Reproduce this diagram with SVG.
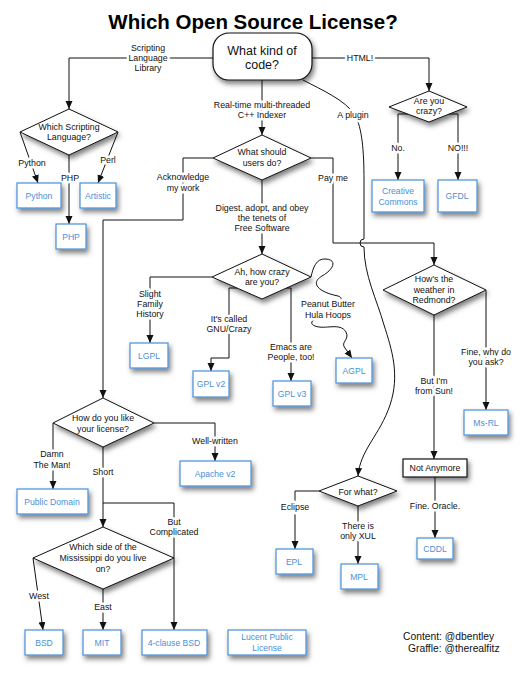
<svg xmlns="http://www.w3.org/2000/svg" width="525" height="676" viewBox="0 0 525 676">
<defs>
<filter id="sh" x="-20%" y="-20%" width="150%" height="180%">
<feDropShadow dx="2" dy="3.5" stdDeviation="2.5" flood-color="#000" flood-opacity="0.5"/>
</filter>
<marker id="arr" markerUnits="userSpaceOnUse" markerWidth="8" markerHeight="8" refX="8" refY="3.5" orient="auto">
<path d="M0,0 L8,3.5 L0,7 z" fill="#111"/>
</marker>
</defs>
<style>
text{font-family:"Liberation Sans",Arial,sans-serif;text-anchor:middle}
.t{font-size:8.8px;fill:#111}
.h{stroke:#fff;stroke-width:5;stroke-linejoin:round;paint-order:stroke}
.c path{fill:none;stroke:#111;stroke-width:1;marker-end:url(#arr)}
.dia polygon{fill:#fff;stroke:#111;stroke-width:1;filter:url(#sh)}
.dia text{font-size:8.8px;fill:#111}
.box rect{fill:#fff;stroke:#4a90d9;stroke-width:1.2;filter:url(#sh)}
.box text{font-size:8.6px;fill:#4a90d9}
.blk rect{fill:#fff;stroke:#111;stroke-width:1.2;filter:url(#sh)}
.blk text{font-size:8.8px;fill:#111}
</style>
<rect width="525" height="676" fill="#fff"/>
<text x="253" y="29" style="font-size:20.5px;font-weight:bold;fill:#000">Which Open Source License?</text>

<g class="c" id="connectors">
<path d="M213,58 L69,58 L69,109"/>
<path d="M312,58 L429,58 L429,91"/>
<path d="M262,80 L262,135"/>
<path d="M303,80 C322,90 345,100 355,115 C362,128 364,150 364,180 L364,239 A4,4 0 0 0 364,247 C364,275 377,300 384,325 C392,350 400,375 390,405 C380,435 360,450 358,476"/>
<path d="M20,132 L38,183"/>
<path d="M118,132 L98,183"/>
<path d="M69,155 L69,224"/>
<path d="M408,114 L398,114 L398,180"/>
<path d="M448,114 L458,114 L458,180"/>
<path d="M213,158 L183,158 L183,220 L103,220 L103,398"/>
<path d="M311,158 L333,158 L333,243 L434,243 L434,265"/>
<path d="M262,180 L262,254"/>
<path d="M212,277 L150,277 L150,343"/>
<path d="M237,288 L229,288 L229,358 L211,358 L211,371"/>
<path d="M286,288 L291,288 L291,381"/>
<path d="M311,277 C313,268 316,258 326,259 C338,260 333,270 322,276 C310,283 318,292 338,296 C345,298 340,305 330,310 C320,316 305,322 315,326 C325,330 340,322 346,332 C350,340 340,342 345,348 L352,358"/>
<path d="M434,315 L434,459"/>
<path d="M486,290 L486,410"/>
<path d="M435,477 L435,538"/>
<path d="M319,491 L295,491 L295,549"/>
<path d="M358,506 L358,564"/>
<path d="M53,423 L53,489"/>
<path d="M154,423 L215,423 L215,461"/>
<path d="M103,447 L103,527"/>
<path d="M103,503 L174,503 L174,630"/>
<path d="M33,558 L43,630"/>
<path d="M103,589 L103,630"/>
</g>

<g id="edge-labels" class="t">
<text class="t h" x="148" y="51">Scripting</text>
<text class="t h" x="148" y="61">Language</text>
<text class="t h" x="148" y="71">Library</text>
<text class="t h" x="360" y="61">HTML!</text>
<text class="t h" x="262" y="108">Real-time multi-threaded</text>
<text class="t h" x="262" y="118">C++ Indexer</text>
<text class="t h" x="353" y="118">A plugin</text>
<text class="t h" x="32" y="166">Python</text>
<text class="t h" x="70" y="181">PHP</text>
<text class="t h" x="108" y="163">Perl</text>
<text class="t h" x="398" y="151">No.</text>
<text class="t h" x="458" y="151">NO!!!</text>
<text class="t h" x="183" y="180">Acknowledge</text>
<text class="t h" x="183" y="191">my work</text>
<text class="t h" x="333" y="181">Pay me</text>
<text class="t h" x="262" y="211">Digest, adopt, and obey</text>
<text class="t h" x="262" y="221">the tenets of</text>
<text class="t h" x="262" y="231">Free Software</text>
<text class="t h" x="150" y="297">Slight</text>
<text class="t h" x="150" y="307">Family</text>
<text class="t h" x="150" y="317">History</text>
<text class="t h" x="229" y="322">It's called</text>
<text class="t h" x="229" y="332">GNU/Crazy</text>
<text class="t h" x="291" y="350">Emacs are</text>
<text class="t h" x="291" y="360">People, too!</text>
<text class="t h" x="328" y="307">Peanut Butter</text>
<text class="t h" x="328" y="318">Hula Hoops</text>
<text class="t h" x="434" y="384">But I'm</text>
<text class="t h" x="434" y="394">from Sun!</text>
<text class="t h" x="486" y="355">Fine, why do</text>
<text class="t h" x="486" y="365">you ask?</text>
<text class="t h" x="435" y="509">Fine. Oracle.</text>
<text class="t h" x="295" y="510">Eclipse</text>
<text class="t h" x="358" y="529">There is</text>
<text class="t h" x="358" y="539">only XUL</text>
<text class="t h" x="52" y="457">Damn</text>
<text class="t h" x="52" y="468">The Man!</text>
<text class="t h" x="215" y="444">Well-written</text>
<text class="t h" x="103" y="475">Short</text>
<text class="t h" x="174" y="525">But</text>
<text class="t h" x="174" y="535">Complicated</text>
<text class="t h" x="39" y="599">West</text>
<text class="t h" x="103" y="610">East</text>
</g>

<g id="start">
<rect x="213" y="33" width="99" height="47" rx="16" fill="#fff" stroke="#111" stroke-width="1.2" filter="url(#sh)"/>
<text x="262" y="55" style="font-size:12.5px;fill:#111">What kind of</text>
<text x="262" y="69" style="font-size:12.5px;fill:#111">code?</text>
</g>

<g id="q-scripting" class="dia"><polygon points="69,109 118,132 69,155 20,132"/><text x="69" y="130">Which Scripting</text><text x="69" y="140">Language?</text></g>
<g id="q-users" class="dia"><polygon points="262,135 311,158 262,180 213,158"/><text x="262" y="155">What should</text><text x="262" y="166">users do?</text></g>
<g id="q-crazy" class="dia"><polygon points="429,91 467,107 429,122 389,107"/><text x="429" y="104">Are you</text><text x="429" y="114">crazy?</text></g>
<g id="q-howcrazy" class="dia"><polygon points="262,254 311,277 262,299 212,277"/><text x="262" y="275">Ah, how crazy</text><text x="262" y="285">are you?</text></g>
<g id="q-redmond" class="dia"><polygon points="434,265 486,290 434,315 383,290"/><text x="434" y="282">How's the</text><text x="434" y="293">weather in</text><text x="434" y="303">Redmond?</text></g>
<g id="q-like" class="dia"><polygon points="103,398 154,423 103,447 53,423"/><text x="103" y="421">How do you like</text><text x="103" y="432">your license?</text></g>
<g id="q-forwhat" class="dia"><polygon points="358,476 397,491 358,506 319,491"/><text x="358" y="495">For what?</text></g>
<g id="q-miss" class="dia"><polygon points="103,527 174,558 103,589 33,558"/><text x="103" y="550">Which side of the</text><text x="103" y="561">Mississippi do you live</text><text x="103" y="572">on?</text></g>

<g id="python" class="box"><rect x="17" y="183" width="44" height="25"/><text x="39" y="199">Python</text></g>
<g id="artistic" class="box"><rect x="80" y="183" width="36" height="25"/><text x="98" y="199">Artistic</text></g>
<g id="php" class="box"><rect x="56" y="224" width="30" height="25"/><text x="71" y="240">PHP</text></g>
<g id="cc" class="box"><rect x="372" y="180" width="52" height="32"/><text x="398" y="194">Creative</text><text x="398" y="205">Commons</text></g>
<g id="gfdl" class="box"><rect x="438" y="180" width="39" height="32"/><text x="457" y="199">GFDL</text></g>
<g id="lgpl" class="box"><rect x="130" y="343" width="38" height="25"/><text x="149" y="359">LGPL</text></g>
<g id="gplv2" class="box"><rect x="193" y="371" width="36" height="26"/><text x="211" y="387">GPL v2</text></g>
<g id="gplv3" class="box"><rect x="273" y="381" width="38" height="25"/><text x="292" y="397">GPL v3</text></g>
<g id="agpl" class="box"><rect x="336" y="358" width="36" height="25"/><text x="354" y="374">AGPL</text></g>
<g id="msrl" class="box"><rect x="464" y="410" width="44" height="25"/><text x="486" y="426">Ms-RL</text></g>
<g id="notanymore" class="blk"><rect x="403" y="459" width="64" height="18"/><text x="435" y="471">Not Anymore</text></g>
<g id="apache" class="box"><rect x="180" y="461" width="71" height="25"/><text x="215" y="477">Apache v2</text></g>
<g id="pd" class="box"><rect x="17" y="489" width="71" height="25"/><text x="52" y="505">Public Domain</text></g>
<g id="epl" class="box"><rect x="276" y="549" width="37" height="25"/><text x="294" y="565">EPL</text></g>
<g id="mpl" class="box"><rect x="341" y="564" width="37" height="25"/><text x="359" y="580">MPL</text></g>
<g id="cddl" class="box"><rect x="417" y="538" width="36" height="21"/><text x="435" y="552">CDDL</text></g>
<g id="bsd" class="box"><rect x="25" y="630" width="38" height="25"/><text x="44" y="646">BSD</text></g>
<g id="mit" class="box"><rect x="83" y="630" width="38" height="25"/><text x="102" y="646">MIT</text></g>
<g id="bsd4" class="box"><rect x="142" y="630" width="65" height="25"/><text x="174" y="646">4-clause BSD</text></g>
<g id="lucent" class="box"><rect x="228" y="630" width="78" height="25"/><text x="267" y="640">Lucent Public</text><text x="267" y="651">License</text></g>

<g id="credits">
<text x="403" y="640" style="text-anchor:start;font-size:10.3px;fill:#111">Content: @dbentley</text>
<text x="408" y="652" style="text-anchor:start;font-size:10.3px;fill:#111">Graffle: @therealfitz</text>
</g>
</svg>
